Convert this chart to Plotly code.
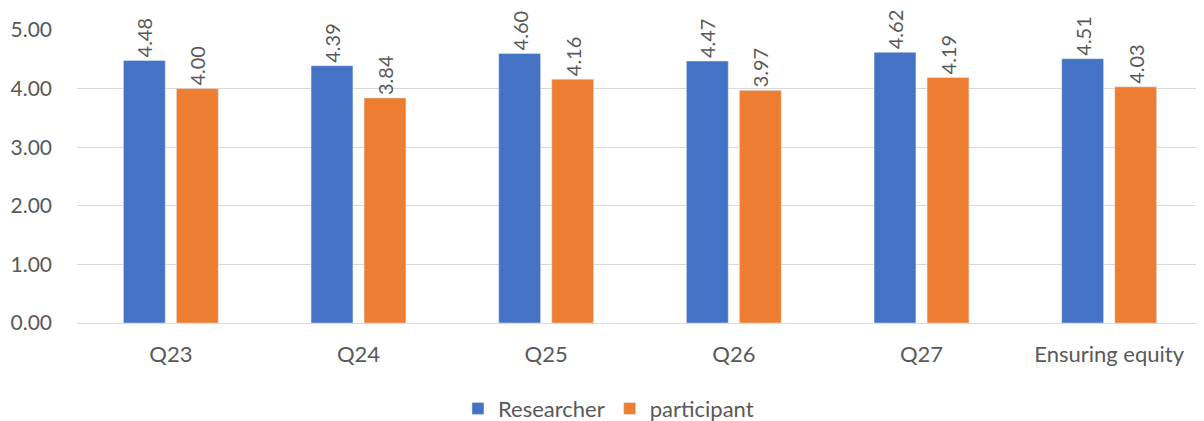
import plotly.graph_objects as go

categories = ["Q23", "Q24", "Q25", "Q26", "Q27", "Ensuring equity"]
researcher = [4.48, 4.39, 4.60, 4.47, 4.62, 4.51]
participant = [4.00, 3.84, 4.16, 3.97, 4.19, 4.03]
y_ticks = [0, 1, 2, 3, 4, 5]

text_color = "#595959"
font_family = "Lato, 'Open Sans', sans-serif"

fig = go.Figure()
fig.add_trace(go.Bar(
    x=categories, y=researcher, name="Researcher",
    marker=dict(color="#4472C4"),
    text=[f"{v:.2f}" for v in researcher], textposition="outside",
    textangle=-90, textfont=dict(size=20, color=text_color),
    constraintext="none", cliponaxis=False,
))
fig.add_trace(go.Bar(
    x=categories, y=participant, name="participant",
    marker=dict(color="#ED7D31"),
    text=[f"{v:.2f}" for v in participant], textposition="outside",
    textangle=-90, textfont=dict(size=20, color=text_color),
    constraintext="none", cliponaxis=False,
))

# page body has an 8px margin, so the figure is shrunk by that much
fig.update_layout(
    width=1196, height=413,
    margin=dict(l=69, r=1, t=22, b=98),
    barmode="group", bargap=0.435, bargroupgap=0.21,
    plot_bgcolor="white", paper_bgcolor="white",
    font=dict(family=font_family, size=21, color=text_color),
    showlegend=True,
    legend=dict(orientation="h", x=0.472, xanchor="center",
                yref="container", y=0.03, yanchor="middle",
                font=dict(size=22, color=text_color), itemwidth=30),
)
fig.update_yaxes(
    range=[0, 5], tickvals=y_ticks, ticktext=[f"{v:.2f}" for v in y_ticks],
    showgrid=True, gridcolor="#D9D9D9", gridwidth=1,
    zeroline=True, zerolinecolor="#D9D9D9", zerolinewidth=1,
    showline=False, ticks="", ticklabelstandoff=24, automargin=False,
    tickfont=dict(size=21),
)
fig.update_xaxes(showgrid=False, showline=False, ticks="", ticklabelstandoff=16,
                 automargin=False, tickfont=dict(size=22))

fig.write_html("out.html")
